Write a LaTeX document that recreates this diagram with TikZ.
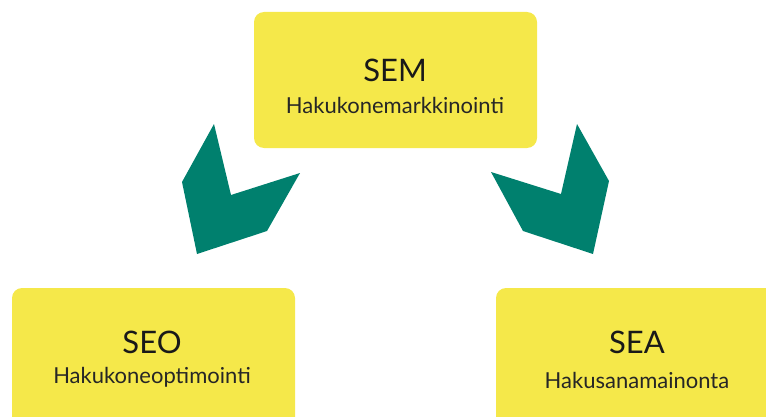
\documentclass[tikz,border=0pt]{standalone}
\usepackage{fontspec}
\setmainfont{Lato}
\definecolor{boxy}{HTML}{F5E84A}
\definecolor{teal}{HTML}{00806E}
\tikzset{
  box/.style={fill=boxy, rounded corners=10pt, minimum width=283pt, inner sep=0pt},
  ttl/.style={font=\fontsize{31}{34}\selectfont, inner sep=0pt, text=black!90},
  sub/.style={font=\fontsize{22}{26}\selectfont, inner sep=0pt, text=black!85},
  chev/.style={fill=teal}
}
\begin{document}
\begin{tikzpicture}[x=1pt,y=1pt]
\useasboundingbox (0,0) rectangle (766,416);
\clip (0,0) rectangle (766,416);
\node[box, minimum height=136pt] (sem) at (395.5,336) {};
\node[box, minimum height=152pt] (seo) at (153.5,52) {};
\node[box, minimum height=152pt] (sea) at (637.5,52) {};
\node[ttl] (semt) at (395,346) {SEM};
\node[sub] (sems) at (395,311) {Hakukonemarkkinointi};
\node[ttl] (seot) at (152,74) {SEO};
\node[sub] (seos) at (152,39) {Hakukoneoptimointi};
\node[ttl] (seat) at (637,74) {SEA};
\node[sub] (seas) at (637,36) {Hakusanamainonta};
\fill[chev] (214,292) -- (182,234) -- (197,162) -- (267,185) -- (300,243) -- (231,221) -- cycle;
\fill[chev] (577,292) -- (609,235) -- (593,162) -- (523,185) -- (491,244) -- (561,222) -- cycle;
\end{tikzpicture}
\end{document}
